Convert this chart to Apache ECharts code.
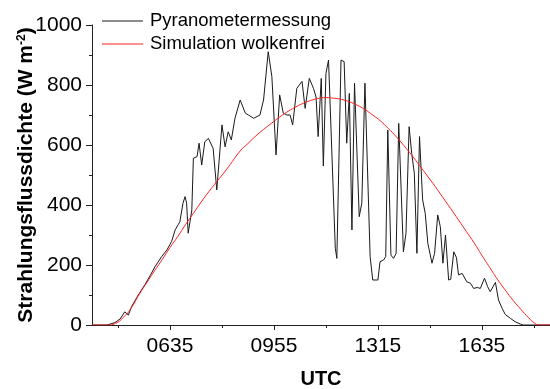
<!DOCTYPE html>
<html>
<head>
<meta charset="utf-8">
<script src="https://cdn.jsdelivr.net/npm/echarts@6/dist/echarts.min.js"></script>
<style>
  html, body { margin: 0; padding: 0; background: #fff; }
  #chart { width: 550px; height: 389px; }
</style>
</head>
<body>
<div id="chart"></div>
<script>
// Zeit in Minuten seit Mitternacht (UTC)
var tickLabels = ['0635', '0955', '1315', '1635']
var axisStart = 245   // 04:05
var axisEnd = 1126

// Pyranometermessung
var measTime = [245, 274, 289, 299, 308, 315, 321, 334, 347, 357, 366, 379, 389, 398, 405, 411, 414, 420, 424, 427,
  430, 437, 440, 447, 451, 456, 462, 469, 478, 485, 495, 501, 507, 513, 520, 530, 540, 546, 556, 568,
  575, 584, 591, 599, 606, 613, 620, 626, 631, 639, 649, 655, 663, 671, 676, 680, 686, 690, 695, 700,
  713, 716, 724, 730, 735, 740, 745, 750, 759, 764, 770, 780, 785, 795, 799, 806, 810, 814, 820, 825,
  830, 835, 844, 849, 855, 860, 865, 870, 875, 881, 886, 891, 899, 904, 910, 915, 920, 925, 931, 935,
  941, 946, 950, 957, 966, 973, 979, 986, 992, 1000, 1006, 1011, 1021, 1027, 1034, 1040, 1050, 1059, 1069, 1075, 1126]
var measValue = [0, 0, 8, 20, 44, 33, 61, 100, 135, 165, 194, 228, 250, 278, 317, 335, 344, 406, 428, 406,
  306, 383, 556, 561, 606, 533, 611, 622, 589, 450, 667, 594, 644, 617, 689, 750, 706, 700, 689, 700,
  750, 911, 828, 567, 767, 706, 700, 700, 667, 789, 812, 722, 822, 789, 760, 628, 822, 530, 839, 883,
  256, 222, 883, 878, 606, 772, 317, 806, 361, 406, 806, 228, 150, 150, 211, 217, 228, 650, 233, 222,
  239, 672, 244, 306, 661, 572, 506, 239, 628, 417, 372, 272, 206, 239, 367, 328, 206, 300, 150, 152,
  244, 225, 167, 172, 144, 139, 122, 125, 122, 156, 128, 111, 142, 83, 55, 35, 22, 11, 3, 0, 0]

// Simulation wolkenfrei
var simTime = [245, 275, 290, 305, 320, 335, 350, 365, 380, 395, 410, 425, 440, 455, 470, 485, 500, 515, 530, 545,
  560, 575, 590, 605, 620, 635, 650, 665, 680, 695, 710, 725, 740, 755, 770, 785, 800, 815, 830, 845,
  860, 875, 890, 905, 920, 935, 950, 965, 980, 995, 1010, 1025, 1040, 1055, 1070, 1085, 1095, 1105, 1126]
var simValue = [0, 0, 5, 25, 55, 100, 140, 180, 218, 258, 295, 335, 372, 410, 445, 478, 510, 545, 580, 605,
  630, 652, 672, 692, 710, 725, 738, 748, 755, 758, 756, 752, 744, 733, 718, 700, 680, 655, 628, 598,
  566, 532, 497, 462, 425, 388, 350, 312, 274, 232, 192, 152, 116, 82, 52, 24, 8, 0, 0]

function toMin (s) {
  return parseInt(s.slice(0, 2), 10) * 60 + parseInt(s.slice(2), 10)
}
function toLabel (m) {
  var h = Math.floor(m / 60), mm = Math.round(m % 60)
  return (h < 10 ? '0' : '') + h + (mm < 10 ? '0' : '') + mm
}

var majorX = tickLabels.map(toMin)
var minorX = [majorX[0] - 100].concat(majorX.map(function (v) { return v + 100 }))

function pairs (xs, ys) {
  return xs.map(function (x, i) { return [x, ys[i]] })
}

var chart = echarts.init(document.getElementById('chart'))
var axisColor = '#222'
var font = 'Liberation Sans, Arial, sans-serif'

var option = {
  animation: false,
  textStyle: { fontFamily: font, color: '#000' },
  grid: { left: 92, right: 0, top: 25, bottom: 64, outerBoundsMode: 'none', containLabel: false },
  legend: {
    orient: 'vertical',
    left: 102,
    top: 11,
    padding: 0,
    itemWidth: 41,
    itemHeight: 14,
    itemGap: 3,
    icon: 'path://M0,0L40,0L40,1L0,1Z',
    textStyle: { fontSize: 18.5, color: '#000', fontFamily: font, lineHeight: 20, padding: [0, 0, 0, 2] },
    data: ['Pyranometermessung', 'Simulation wolkenfrei']
  },
  xAxis: [
    {
      type: 'value',
      min: axisStart,
      max: axisEnd,
      name: 'UTC',
      nameLocation: 'middle',
      nameGap: 44,
      nameMoveOverlap: false,
      nameTextStyle: { fontSize: 20, fontWeight: 'bold', color: '#000' },
      axisLine: { onZero: false, lineStyle: { color: axisColor } },
      axisTick: { customValues: majorX, length: 5, lineStyle: { color: axisColor } },
      axisLabel: {
        customValues: majorX,
        fontSize: 21,
        color: '#000',
        margin: 11,
        formatter: function (v) { return toLabel(v) }
      },
      splitLine: { show: false }
    },
    {
      // kleine Ticks
      type: 'value',
      min: axisStart,
      max: axisEnd,
      position: 'bottom',
      axisLine: { show: false },
      axisTick: { customValues: minorX, length: 3, lineStyle: { color: axisColor } },
      axisLabel: { show: false, customValues: minorX, formatter: function () { return '' } },
      splitLine: { show: false }
    }
  ],
  yAxis: {
    type: 'value',
    min: 0,
    max: 1000,
    interval: 200,
    name: 'Strahlungsflussdichte (W m{sup|-2})',
    nameLocation: 'middle',
    nameGap: 55,
    nameMoveOverlap: false,
    nameTextStyle: {
      fontSize: 21,
      fontWeight: 'bold',
      color: '#000',
      rich: {
        sup: { fontSize: 12, fontWeight: 'bold', verticalAlign: 'top', color: '#000' }
      }
    },
    axisLine: { show: true, lineStyle: { color: axisColor } },
    axisTick: { show: true, length: 6, lineStyle: { color: axisColor } },
    minorTick: { show: true, splitNumber: 2, length: 3, lineStyle: { color: axisColor } },
    axisLabel: { fontSize: 21, color: '#000', margin: 10, formatter: function (v) { return String(v) } },
    splitLine: { show: false }
  },
  series: [
    {
      name: 'Pyranometermessung',
      type: 'line',
      symbol: 'none',
      data: pairs(measTime, measValue),
      lineStyle: { color: '#1a1a1a', width: 1 },
      itemStyle: { color: '#1a1a1a' }
    },
    {
      name: 'Simulation wolkenfrei',
      type: 'line',
      symbol: 'none',
      smooth: true,
      data: pairs(simTime, simValue),
      lineStyle: { color: '#ff2020', width: 1 },
      itemStyle: { color: '#ff2020' }
    }
  ]
}
chart.setOption(option)
</script>
</body>
</html>
